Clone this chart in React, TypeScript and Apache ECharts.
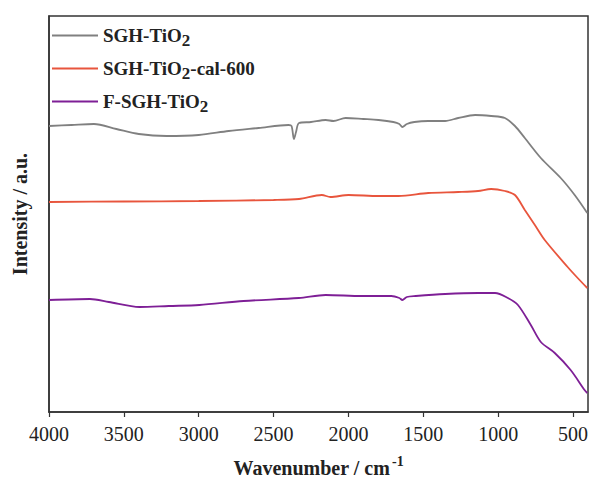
import React, { useEffect, useRef } from "react";
import * as echarts from "echarts";

const seriesNames = ["SGH-TiO2", "SGH-TiO2-cal-600", "F-SGH-TiO2"];
const seriesColors = ["#808080", "#e8553d", "#7e1f96"];

const wnGray = [4000, 3850, 3700, 3550, 3400, 3215, 3000, 2800, 2600, 2400, 2380, 2364, 2350, 2330, 2250, 2152, 2100, 2019, 1900, 1799, 1700, 1660, 1640, 1610, 1560, 1467, 1354, 1267, 1154, 1047, 955, 888, 822, 715, 582, 489, 405];
const intGray = [286, 287, 288, 283, 278, 276, 277, 281, 284, 287, 286, 273, 280, 289, 290, 292, 291, 294, 293, 292, 290, 288, 285, 288, 290, 291, 291, 294, 297, 296, 294, 286, 274, 254, 234, 217, 199];

const wnRed = [4000, 3500, 3000, 2500, 2330, 2178, 2120, 1999, 1799, 1666, 1467, 1267, 1134, 1047, 955, 888, 822, 755, 689, 536, 469, 405];
const intRed = [210, 210.5, 211, 212, 213, 217, 215, 217, 216, 216, 219, 220, 221, 223, 221, 217, 202, 187, 172, 145, 134, 124];

const wnPurple = [4000, 3727, 3600, 3395, 3200, 2996, 2700, 2331, 2152, 1912, 1713, 1660, 1640, 1610, 1550, 1354, 1134, 1021, 935, 868, 782, 715, 622, 516, 423, 405];
const intPurple = [112, 113, 110, 105, 106, 107, 111, 114, 117, 116, 116, 114, 112, 115, 116, 118, 119, 119, 114, 107, 87, 70, 59, 42, 22, 19];

const xTicks = [4000, 3500, 3000, 2500, 2000, 1500, 1000, 500];

const legendRich: Record<string, string> = {
  "SGH-TiO2": "{a|SGH-TiO}{s|2}",
  "SGH-TiO2-cal-600": "{a|SGH-TiO}{s|2}{a|-cal-600}",
  "F-SGH-TiO2": "{a|F-SGH-TiO}{s|2}",
};

function zip(xs: number[], ys: number[]) {
  return xs.map((x, i) => [x, ys[i]]);
}

export default function App() {
  const ref = useRef<HTMLDivElement>(null);
  useEffect(() => {
    if (!ref.current) return;
    const chart = echarts.init(ref.current, undefined, { renderer: "svg" });
    const font = "'Liberation Serif', 'Times New Roman', serif";
    const datas = [zip(wnGray, intGray), zip(wnRed, intRed), zip(wnPurple, intPurple)];
    chart.setOption({
      animation: false,
      backgroundColor: "#ffffff",
      grid: {
        left: 49, right: 2, top: 16, bottom: 68,
        containLabel: false, outerBoundsMode: "none",
        show: true, borderColor: "#333", borderWidth: 1.5, backgroundColor: "transparent",
      },
      legend: {
        orient: "vertical",
        left: 52,
        top: 22,
        padding: 0,
        itemWidth: 46,
        itemHeight: 10,
        itemGap: 6,
        data: seriesNames.map((n, i) => ({ name: n, itemStyle: { color: seriesColors[i] }, icon: "path://M0,4 L46,4 L46,6 L0,6 Z" })),
        formatter: (n: string) => legendRich[n],
        textStyle: {
          fontFamily: font,
          fontWeight: "bold",
          fontSize: 19,
          color: "#222",
          rich: {
            a: { fontFamily: font, fontWeight: "bold", fontSize: 19, color: "#222", lineHeight: 22 },
            s: { fontFamily: font, fontWeight: "bold", fontSize: 17, color: "#222", lineHeight: 18, padding: [10, 0, 0, 0] },
          },
        },
      },
      xAxis: {
        type: "value",
        min: 400,
        max: 4000,
        inverse: true,
        name: "{t|Wavenumber / cm}{sup|-1}",
        nameLocation: "middle",
        nameGap: 40,
        nameTextStyle: {
          fontFamily: font,
          fontWeight: "bold",
          fontSize: 20,
          color: "#222",
          rich: {
            t: { fontFamily: font, fontWeight: "bold", fontSize: 20, color: "#222", lineHeight: 24, padding: [8, 0, 0, 0] },
            sup: { fontFamily: font, fontWeight: "bold", fontSize: 14, color: "#222", lineHeight: 16, padding: [0, 0, 6, 2] },
          },
        },
        axisLine: { show: true, lineStyle: { color: "#333", width: 1.5 } },
        axisTick: { show: true, length: 5, customValues: xTicks, lineStyle: { color: "#333", width: 1.2 } },
        axisLabel: {
          fontFamily: font,
          fontSize: 20,
          color: "#222",
          margin: 12,
          customValues: xTicks,
          formatter: (v: number) => String(v),
        },
        splitLine: { show: false },
      },
      yAxis: {
        type: "value",
        min: 0,
        max: 396,
        name: "Intensity / a.u.",
        nameLocation: "middle",
        nameGap: 19,
        nameTextStyle: { fontFamily: font, fontWeight: "bold", fontSize: 20, color: "#222" },
        axisLine: { show: true, lineStyle: { color: "#333", width: 1.5 } },
        axisTick: { show: false },
        axisLabel: { show: false },
        splitLine: { show: false },
      },
      series: seriesNames.map((n, i) => ({
        name: n,
        type: "line",
        data: datas[i],
        symbol: "none",
        smooth: 0.3,
        lineStyle: { color: seriesColors[i], width: 1.8 },
        itemStyle: { color: seriesColors[i] },
      })),
    });
    return () => chart.dispose();
  }, []);
  return <div ref={ref} style={{ position: "absolute", left: 0, top: 0, width: 590, height: 480 }} />;
}
